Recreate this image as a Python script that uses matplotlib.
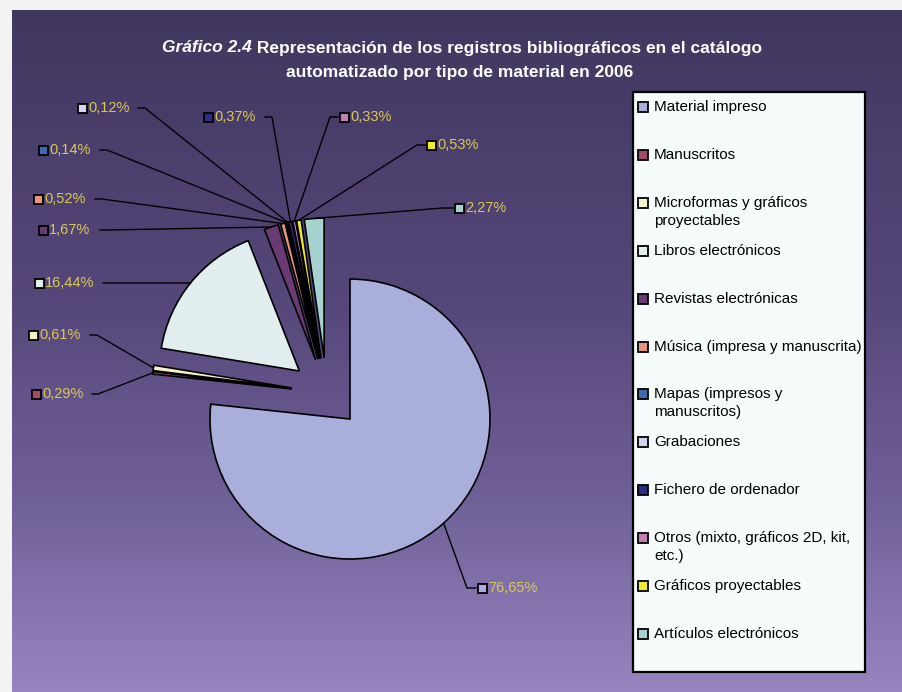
import numpy as np
import matplotlib
matplotlib.use("Agg")
import matplotlib.pyplot as plt
from matplotlib.patches import Rectangle
import math

# ---------------- data ----------------
categories = [
    "Material impreso",
    "Manuscritos",
    "Microformas y gráficos\nproyectables",
    "Libros electrónicos",
    "Revistas electrónicas",
    "Música (impresa y manuscrita)",
    "Mapas (impresos y\nmanuscritos)",
    "Grabaciones",
    "Fichero de ordenador",
    "Otros (mixto, gráficos 2D, kit,\netc.)",
    "Gráficos proyectables",
    "Artículos electrónicos",
]
values = [76.65, 0.29, 0.61, 16.44, 1.67, 0.52, 0.14, 0.12, 0.37, 0.33, 0.53, 2.27]
colors = ["#a9aedb", "#a34a66", "#f4f2c8", "#e2eeee", "#6a3a72", "#e8957c",
          "#3f69b0", "#d4d4ef", "#2c2c82", "#c27fb4", "#f0ea30", "#a6d3cf"]

title_italic = "Gráfico 2.4"
title_rest = "Representación de los registros bibliográficos en el catálogo"
title_line2 = "automatizado por tipo de material en 2006"

# ---------------- figure ----------------
W, H = 902, 692
fig = plt.figure(figsize=(W / 100, H / 100), dpi=100, facecolor="#f3f3f3")
ax = fig.add_axes([0, 0, 1, 1])
ax.set_xlim(0, W)
ax.set_ylim(0, H)
ax.axis("off")

def Y(y):  # image row -> data y
    return H - y

# background gradient
stops_y = [10, 300, 500, 692]
stops_c = np.array([[64, 55, 95], [86, 71, 122], [112, 96, 152], [150, 133, 191]]) / 255.0
rows = np.arange(10, 692)
grad = np.stack([np.interp(rows, stops_y, stops_c[:, k]) for k in range(3)], axis=-1)
grad = grad[:, None, :]
ax.imshow(grad, extent=(12, W, Y(692), Y(10)), aspect="auto", origin="upper", zorder=0)

# ---------------- pie ----------------
R = 140
center = (326.6, Y(393))
wedges, _ = ax.pie(values, colors=colors, explode=[35] * len(values), radius=R,
                   center=center, startangle=90, counterclock=False,
                   wedgeprops=dict(edgecolor="black", linewidth=1.2), frame=True)
ax.set_xlim(0, W)
ax.set_ylim(0, H)
ax.set_aspect("equal")
ax.axis("off")

fam = ["Liberation Sans", "DejaVu Sans"]

# ---------------- data labels ----------------
label_color = "#dac852"
# layout: index -> (marker_x, marker_y, side, line_start_x, elbow_x) in image px
layout = {
    7: (82, 108, "L", 138, 145),
    8: (208, 117, "L", 265, 272),
    6: (43, 150, "L", 100, 107),
    5: (38, 199, "L", 95, 102),
    4: (43, 230, "L", 100, 107),
    3: (39, 283, "L", 103, 110),
    2: (33, 335, "L", 90, 97),
    1: (36, 394, "L", 92, 98),
    9: (344, 117, "R", 338, 330),
    10: (431, 145, "R", 425, 417),
    11: (459, 208, "R", 453, 443),
    0: (482, 588, "R", 476, 467),
}
ms = 9
for i, w in enumerate(wedges):
    mx, my, side, lx, ex = layout[i]
    mid = math.radians(0.5 * (w.theta1 + w.theta2))
    ax_, ay_ = w.center[0] + w.r * math.cos(mid), w.center[1] + w.r * math.sin(mid)
    ax.plot([lx, ex, ax_], [Y(my), Y(my), ay_], color="black", lw=1.0, zorder=3)
    ax.add_patch(Rectangle((mx - ms / 2, Y(my) - ms / 2), ms, ms, facecolor=colors[i],
                           edgecolor="black", lw=1.3, zorder=4))
    txt = f"{values[i]:.2f}".replace(".", ",") + "%"
    ax.text(mx + 6, Y(my), txt, color=label_color, fontsize=10.5,
            family=fam, ha="left", va="center", zorder=4)

# ---------------- title ----------------
tsize = 12.5
t1 = ax.text(0, Y(48), title_italic, color="white", fontsize=tsize, fontweight="bold",
             fontstyle="italic", family=fam, ha="left", va="center")
t2 = ax.text(0, Y(48), " " + title_rest, color="white", fontsize=tsize, fontweight="bold",
             family=fam, ha="left", va="center")
r = fig.canvas.get_renderer()
w1 = t1.get_window_extent(r).width
w2 = t2.get_window_extent(r).width
x0 = 462 - (w1 + w2) / 2
t1.set_x(x0)
t2.set_x(x0 + w1)
ax.text(460, Y(72), title_line2, color="white", fontsize=tsize, fontweight="bold",
        family=fam, ha="center", va="center")

# ---------------- legend ----------------
lx0, ly0, lx1, ly1 = 633, 92, 865, 672
ax.add_patch(Rectangle((lx0, Y(ly1)), lx1 - lx0, ly1 - ly0, facecolor="#f6fbfb",
                       edgecolor="black", lw=1.6, zorder=5))
for i, cat in enumerate(categories):
    yy = 107 + i * 47.9
    ax.add_patch(Rectangle((638, Y(yy) - 5), 10, 10, facecolor=colors[i],
                           edgecolor="black", lw=1.3, zorder=6))
    ax.text(654, Y(yy - 7), cat, color="black", fontsize=11, family=fam,
            ha="left", va="top", linespacing=1.35, zorder=6)

fig.savefig("out.png", dpi=100, facecolor=fig.get_facecolor())
